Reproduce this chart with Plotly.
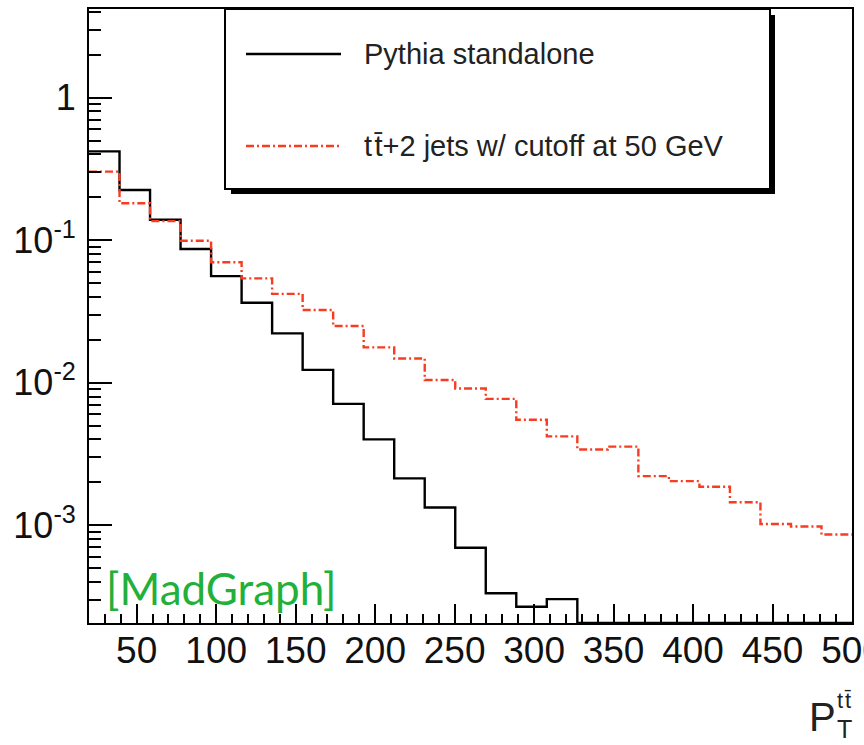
import math
import plotly.graph_objects as go

# ---- data -------------------------------------------------------------
pt_min, pt_max, n_bins = 20.0, 500.0, 25
bin_width = (pt_max - pt_min) / n_bins
bin_edges = [pt_min + i * bin_width for i in range(n_bins + 1)]

# normalised pT(ttbar) distributions, one value per bin
pythia_standalone = [0.42, 0.225, 0.139, 0.0867, 0.056, 0.0364, 0.0222, 0.0123,
                     0.0071, 0.0040, 0.00213, 0.00133, 0.000695, 0.000333,
                     0.000268, 0.000303, 0, 0, 0, 0, 0, 0, 0, 0, 0]
ttbar_2jets = [0.303, 0.1815, 0.136, 0.099, 0.070, 0.054, 0.042, 0.0324,
               0.025, 0.0177, 0.0148, 0.01045, 0.0091, 0.0077, 0.0055, 0.0042,
               0.0034, 0.00356, 0.00221, 0.00204, 0.00186, 0.00145, 0.00102,
               0.00098, 0.00086]

series_names = ["Pythia standalone", "t\u200at\u0304+2 jets w/ cutoff at 50 GeV"]

x_tick_vals = [50, 100, 150, 200, 250, 300, 350, 400, 450, 500]
x_tick_text = ["50", "100", "150", "200", "250", "300", "350", "400", "450", "500"]
y_tick_vals = [1e-3, 1e-2, 1e-1, 1]
y_tick_text = ["10<sup>-3</sup>", "10<sup>-2</sup>", "10<sup>-1</sup>", "1"]

y_lo, y_hi = 2.06e-4, 4.19

# ---- helpers ----------------------------------------------------------
def step_points(values, floor):
    """Histogram outline: left edges + closing right edge; empty bins sit on the axis floor."""
    ys = [v if v > 0 else floor for v in values]
    return bin_edges, ys + [ys[-1]]

RED = "#f83c22"
DASHDOT = "8px,3px,2px,3px"
FONT = "Liberation Sans, Arial, Helvetica, sans-serif"

fig = go.Figure()

xs, ys = step_points(pythia_standalone, y_lo)
fig.add_trace(go.Scatter(x=xs, y=ys, mode="lines", line_shape="hv",
                         line=dict(color="black", width=2.4),
                         name=series_names[0], showlegend=False))
xs, ys = step_points(ttbar_2jets, y_lo)
fig.add_trace(go.Scatter(x=xs, y=ys, mode="lines", line_shape="hv",
                         line=dict(color=RED, width=2.4, dash=DASHDOT),
                         name=series_names[1], showlegend=False))

# minor tick positions for the log axis (2..9 per decade)
y_minor = [k * 10.0 ** e for e in range(-4, 1) for k in range(2, 10)]

# ---- layout -----------------------------------------------------------
L, R, T, B = 89, 12, 9, 122
W, H = 864, 745
pw, ph = W - L - R, H - T - B

def px(xp):
    return (xp - L) / pw

def py(yp):
    return (H - B - yp) / ph

fig.update_layout(
    width=W, height=H,
    margin=dict(l=L, r=R, t=T, b=B, pad=0),
    paper_bgcolor="white", plot_bgcolor="white",
    font=dict(family=FONT, color="black"),
    showlegend=False,
)
fig.update_xaxes(
    range=[pt_min, pt_max], showgrid=False, zeroline=False, automargin=False,
    showline=True, linecolor="black", linewidth=2, mirror=True,
    ticks="inside", ticklen=19, tickwidth=2, tickcolor="black",
    tickmode="array", tickvals=x_tick_vals, ticktext=x_tick_text,
    tickfont=dict(size=37, family=FONT, color="#111"),
    ticklabelstandoff=-6, ticklabeloverflow="allow",
    minor=dict(ticks="inside", ticklen=9, tickwidth=2, tickcolor="black",
               dtick=10, tick0=0, showgrid=False),
)
fig.update_yaxes(
    type="log", range=[math.log10(y_lo), math.log10(y_hi)],
    showgrid=False, zeroline=False, automargin=False,
    showline=True, linecolor="black", linewidth=2, mirror=True,
    ticks="inside", ticklen=23, tickwidth=2, tickcolor="black",
    tickmode="array", tickvals=y_tick_vals, ticktext=y_tick_text,
    tickfont=dict(size=36, family=FONT, color="#111"),
    ticklabelstandoff=4,
    minor=dict(ticks="inside", ticklen=12, tickwidth=2, tickcolor="black",
               tickmode="array", tickvals=y_minor, showgrid=False),
)

# ---- legend box with drop shadow --------------------------------------
shapes = [
    dict(type="rect", xref="paper", yref="paper",
         x0=px(231), x1=px(775), y0=py(194), y1=py(15),
         fillcolor="black", line=dict(width=0), layer="above"),
    dict(type="rect", xref="paper", yref="paper",
         x0=px(225), x1=px(770), y0=py(189), y1=py(9),
         fillcolor="white", line=dict(color="black", width=2), layer="above"),
    dict(type="line", xref="paper", yref="paper",
         x0=px(246), x1=px(341), y0=py(54), y1=py(54),
         line=dict(color="black", width=2.3), layer="above"),
    dict(type="line", xref="paper", yref="paper",
         x0=px(246), x1=px(341), y0=py(146), y1=py(146),
         line=dict(color=RED, width=2.3, dash=DASHDOT), layer="above"),
]
fig.update_layout(shapes=shapes)

annotations = [
    dict(text=series_names[0], x=px(362), y=py(54), xref="paper", yref="paper",
         xanchor="left", yanchor="middle", showarrow=False,
         font=dict(size=29, family=FONT, color="#222")),
    dict(text=series_names[1], x=px(362), y=py(146),
         xref="paper", yref="paper", xanchor="left", yanchor="middle",
         showarrow=False, font=dict(size=29, family=FONT, color="#222")),
    dict(text="[MadGraph]", x=px(104), y=py(588), xref="paper", yref="paper",
         xanchor="left", yanchor="middle", showarrow=False,
         font=dict(size=44, family="Lato, Open Sans, sans-serif", color="#22b03a")),
    # axis title P_T^{tt}
    dict(text="P", x=px(807), y=py(717), xref="paper", yref="paper",
         xanchor="left", yanchor="middle", showarrow=False,
         font=dict(size=40, family=FONT, color="#222")),
    dict(text="t\u200at\u0304", x=px(835), y=py(700),
         xref="paper", yref="paper", xanchor="left", yanchor="middle",
         showarrow=False, font=dict(size=22, family=FONT, color="#222")),
    dict(text="T", x=px(835), y=py(729), xref="paper", yref="paper",
         xanchor="left", yanchor="middle", showarrow=False,
         font=dict(size=25, family=FONT, color="#222")),
]
fig.update_layout(annotations=annotations)

fig.write_html("out.html")
